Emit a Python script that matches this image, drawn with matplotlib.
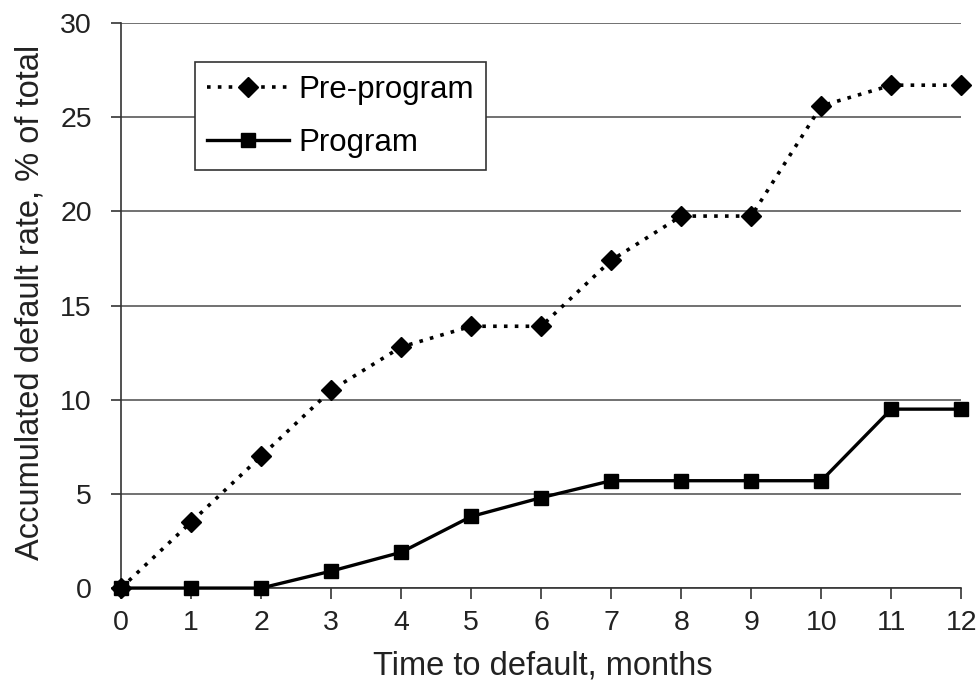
import matplotlib.pyplot as plt
import numpy as np

plt.rcParams['font.family'] = ['Liberation Sans', 'DejaVu Sans']

months = np.arange(0, 13)
pre_program = [0, 3.5, 7.0, 10.5, 12.8, 13.9, 13.9, 17.4, 19.75, 19.75, 25.6, 26.7, 26.7]
program = [0, 0, 0, 0.9, 1.9, 3.8, 4.8, 5.7, 5.7, 5.7, 5.7, 9.5, 9.5]

fig = plt.figure(figsize=(9.8, 6.87), dpi=100)
ax = fig.add_axes([0.1235, 0.144, 0.8575, 0.8225])

ax.plot(months, pre_program, color='black', linestyle=(0, (1, 2)), lw=2.6,
        marker='D', ms=10, label='Pre-program', clip_on=False, zorder=3)
ax.plot(months, program, color='black', linestyle='-', lw=2.4,
        marker='s', ms=10, label='Program', clip_on=False, zorder=3)

ax.set_xlim(0, 12)
ax.set_ylim(0, 30)
ax.set_xticks(months)
ax.set_yticks(np.arange(0, 31, 5))
ax.yaxis.grid(True, color='#666666', lw=1.3)
ax.set_axisbelow(True)
for s in ['top', 'right']:
    ax.spines[s].set_visible(False)
for s in ['left', 'bottom']:
    ax.spines[s].set_color('#333333')
    ax.spines[s].set_linewidth(1.2)
ax.tick_params(axis='both', labelsize=20.5, width=1.2, color='#333333',
               labelcolor='#222222')
ax.tick_params(axis='x', length=8, pad=8)
ax.tick_params(axis='y', length=7, pad=14)

ax.set_xlabel('Time to default, months', fontsize=23.5, color='#222222', va='center')
ax.set_ylabel('Accumulated default rate, % of total', fontsize=23.5, color='#222222', va='center')
ax.xaxis.set_label_coords(0.502, -0.138)
ax.yaxis.set_label_coords(-0.108, 0.506)

leg = ax.legend(loc='upper left', bbox_to_anchor=(0.088, 0.931), borderaxespad=0,
                fontsize=22.5, frameon=True, fancybox=False, handlelength=2.6,
                labelspacing=0.75, borderpad=0.4, handletextpad=0.3)
leg.get_frame().set_edgecolor('#333333')
leg.get_frame().set_linewidth(1.2)
leg.get_frame().set_alpha(1)

fig.savefig('out.png', dpi=100)
